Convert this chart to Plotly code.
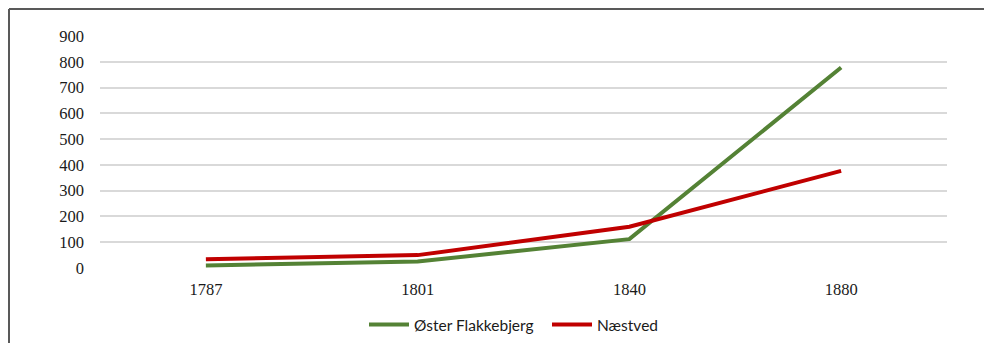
import plotly.graph_objects as go

# Population by census year
years = ["1787", "1801", "1840", "1880"]
oster_flakkebjerg = [10, 25, 112, 778]
naestved = [34, 50, 160, 377]

y_ticks = [0, 100, 200, 300, 400, 500, 600, 700, 800, 900]

W, H = 984, 343
L, R, T, B = 100, 37, 36, 75
pw, ph = W - L - R, H - T - B


def px_x(p):
    return (p - L) / pw


def px_y(p):
    return (H - B - p) / ph


fig = go.Figure()
fig.add_trace(go.Scatter(
    x=years, y=oster_flakkebjerg, name="Øster Flakkebjerg", mode="lines",
    line=dict(color="#548235", width=4),
))
fig.add_trace(go.Scatter(
    x=years, y=naestved, name="Næstved", mode="lines",
    line=dict(color="#c00000", width=4),
))

# Outer frame (top and left edges)
frame = dict(color="#595959", width=2)
fig.add_shape(type="line", xref="paper", yref="paper",
              x0=px_x(9), y0=px_y(9), x1=px_x(W + 5), y1=px_y(9), line=frame)
fig.add_shape(type="line", xref="paper", yref="paper",
              x0=px_x(9), y0=px_y(9), x1=px_x(9), y1=px_y(H + 5), line=frame)

tick_font = dict(family="'Liberation Serif', 'Times New Roman', serif", size=16.5, color="#1a1a1a")

fig.update_layout(
    width=W, height=H,
    margin=dict(l=L, r=R, t=T, b=B, autoexpand=False),
    paper_bgcolor="white", plot_bgcolor="white",
    showlegend=True,
    legend=dict(
        orientation="h", x=px_x(364), xanchor="left", y=px_y(325), yanchor="middle",
        font=dict(family="Lato, 'Noto Sans', sans-serif", size=15.5, color="#1a1a1a"),
        itemwidth=40, entrywidth=128, entrywidthmode="pixels",
        tracegroupgap=0, bgcolor="rgba(0,0,0,0)",
    ),
    xaxis=dict(
        type="category", range=[-0.5, 3.5], showgrid=False, zeroline=False,
        showline=False, ticks="", tickfont=tick_font, ticklabelstandoff=9,
    ),
    yaxis=dict(
        range=[0, 900], tickvals=y_ticks, ticktext=[str(v) for v in y_ticks],
        showgrid=True, gridcolor="#d9d9d9", gridwidth=1.5, zeroline=False,
        showline=False, ticks="", tickfont=tick_font, ticklabelstandoff=15,
    ),
)

fig.write_html("out.html")
